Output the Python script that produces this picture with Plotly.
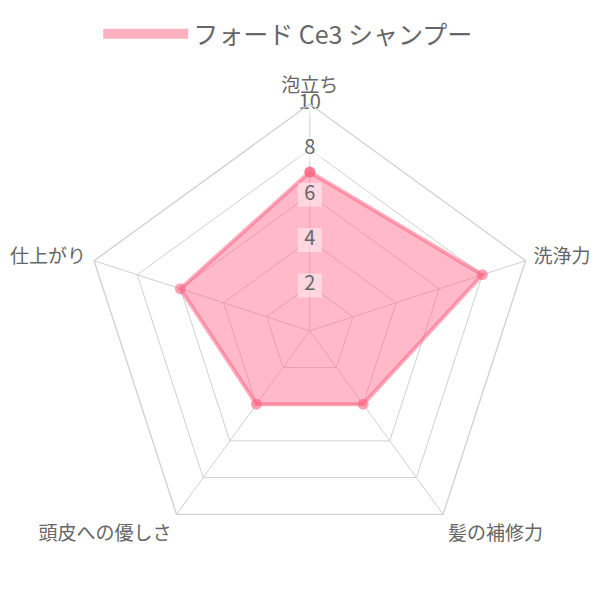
import plotly.graph_objects as go

# ── data ────────────────────────────────────────────────────────────────
categories = ["泡立ち", "洗浄力", "髪の補修力", "頭皮への優しさ", "仕上がり"]
scores = [7, 8, 4, 4, 6]
series_name = "フォード Ce3 シャンプー"
tick_values = [2, 4, 6, 8, 10]

PINK_FILL = "rgba(255,99,132,0.45)"
PINK_LINE = "rgba(255,99,132,0.55)"
GRID = "#d0d0d0"
TEXT = "#666666"
FONT = "Noto Sans CJK JP"

fig = go.Figure()

fig.add_trace(go.Scatterpolar(
    r=scores + scores[:1],
    theta=categories + categories[:1],
    name=series_name,
    mode="lines+markers",
    fill="toself",
    fillcolor=PINK_FILL,
    line=dict(color=PINK_LINE, width=4),
    marker=dict(color="rgba(255,99,132,0.6)", size=11),
    showlegend=False,
))

# legend entry only (wide pink box like the original)
fig.add_trace(go.Scatterpolar(
    r=[None],
    theta=[categories[0]],
    name=series_name,
    mode="lines",
    line=dict(color="rgba(255,99,132,0.5)", width=24),
    showlegend=True,
    hoverinfo="skip",
))

# radial tick labels with a light backdrop
fig.add_trace(go.Scatterpolar(
    r=tick_values,
    theta=[categories[0]] * len(tick_values),
    mode="markers+text",
    text=[str(v) for v in tick_values],
    textposition="middle center",
    textfont=dict(size=20, color=TEXT, family=FONT),
    marker=dict(symbol="square", size=24, color="rgba(255,255,255,0.45)"),
    showlegend=False,
    hoverinfo="skip",
))

fig.update_layout(
    width=600,
    height=600,
    paper_bgcolor="white",
    plot_bgcolor="white",
    margin=dict(t=0, b=0, l=0, r=0),
    font=dict(family=FONT, color=TEXT),
    showlegend=True,
    legend=dict(
        orientation="h",
        x=0.467, xanchor="center",
        y=0.995, yanchor="top",
        font=dict(size=25, color=TEXT),
        itemwidth=85,
    ),
    polar=dict(
        domain=dict(x=[0.125, 0.881], y=[0.084, 0.840]),
        bgcolor="white",
        gridshape="linear",
        radialaxis=dict(
            range=[0, 10],
            tickvals=tick_values,
            showticklabels=False,
            ticks="",
            showline=False,
            gridcolor=GRID,
            gridwidth=1.3,
        ),
        angularaxis=dict(
            rotation=90,
            direction="clockwise",
            gridcolor=GRID,
            gridwidth=1.3,
            showline=True,
            linecolor=GRID,
            linewidth=1.3,
            ticks="outside",
            ticklen=4,
            tickcolor="rgba(0,0,0,0)",
            tickfont=dict(size=19, color=TEXT),
        ),
    ),
)

fig.write_html("out.html")
